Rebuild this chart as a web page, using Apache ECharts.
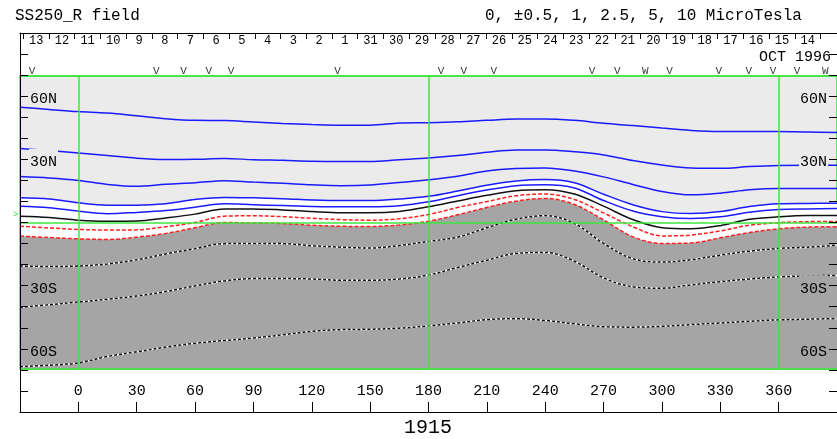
<!DOCTYPE html>
<html>
<head>
<meta charset="utf-8">
<script src="https://cdn.jsdelivr.net/npm/echarts@6/dist/echarts.min.js"></script>
<style>
  html, body { margin: 0; padding: 0; background: #fff; }
  #chart { width: 837px; height: 439px; }
</style>
</head>
<body>
<div id="chart"></div>
<script>
// Carrington longitude where each contour was read (deg)
const lons = [-30, -15, 0, 15, 30, 45, 60, 75, 90, 105, 120, 135, 150, 165, 180,
  195, 210, 225, 240, 255, 270, 285, 300, 315, 330, 345, 360, 375, 390]

// latitude of each field contour (MicroTesla), positive levels
const lat10 = [55.1, 54.0, 53.0, 52.3, 51.0, 49.6, 48.8, 48.7, 48.0, 47.3, 46.8, 46.5, 46.5, 47.5, 47.7,
  48.1, 48.8, 49.4, 49.5, 48.8, 47.4, 46.3, 45.1, 44.0, 43.5, 43.5, 43.5, 43.2, 43.0]
const lat5 = [35.4, 34.4, 33.2, 32.0, 30.7, 30.1, 30.2, 30.6, 30.0, 29.7, 29.3, 29.2, 29.2, 30.0, 30.8,
  32.0, 33.6, 34.7, 34.7, 33.8, 32.3, 29.6, 27.5, 26.1, 25.9, 26.7, 27.2, 27.3, 27.3]
const lat2p5 = [22.0, 21.3, 20.1, 18.2, 17.3, 18.3, 19.0, 20.0, 19.3, 18.7, 18.0, 17.6, 17.9, 19.1, 20.4,
  22.1, 24.6, 25.8, 26.1, 24.6, 21.8, 18.2, 14.8, 13.2, 14.0, 15.6, 16.2, 16.2, 16.2]
const lat1 = [11.8, 11.2, 9.4, 8.3, 8.3, 9.0, 11.0, 12.0, 11.8, 11.4, 10.8, 10.5, 10.5, 11.2, 12.5,
  15.0, 17.8, 19.8, 20.5, 19.0, 13.5, 8.5, 5.2, 4.3, 5.2, 7.6, 8.9, 9.1, 9.2]
const lat0p5 = [7.8, 7.1, 5.4, 4.2, 4.8, 5.7, 7.3, 8.9, 8.5, 8.1, 7.7, 7.5, 7.5, 8.0, 9.9,
  12.8, 15.5, 17.6, 18.0, 16.5, 10.5, 5.5, 2.8, 1.9, 2.7, 4.9, 6.2, 6.5, 6.7]
// neutral line
const lat0 = [3.0, 2.4, 1.1, 0.6, 0.7, 2.2, 4.0, 6.5, 6.4, 6.0, 5.2, 4.6, 4.6, 5.3, 7.5,
  10.3, 13.0, 15.2, 15.7, 13.6, 7.8, 1.4, -2.5, -3.0, -1.5, 1.5, 2.7, 3.3, 3.3]
// negative levels
const latM0p5 = [-1.8, -2.6, -3.3, -3.6, -3.5, -2.0, 0.0, 3.0, 3.2, 2.8, 2.0, 1.4, 1.1, 1.8, 3.8,
  7.2, 10.0, 12.8, 13.6, 11.0, 4.6, -2.0, -6.4, -6.0, -4.0, -1.3, -0.1, 0.4, 0.5]
const latM1 = [-6.5, -7.2, -7.8, -8.1, -7.0, -5.2, -2.5, 0.0, -0.2, -0.5, -1.3, -1.8, -1.9, -1.2, 0.6,
  3.7, 7.2, 10.2, 11.5, 8.6, 1.2, -6.8, -10.0, -9.8, -7.3, -4.8, -3.0, -2.2, -2.0]
const latM2p5 = [-20.8, -21.0, -20.8, -19.8, -17.8, -15.0, -12.5, -10.1, -10.0, -10.1, -11.1, -11.8, -12.2, -11.0, -9.0,
  -7.0, -2.5, 1.6, 3.3, -0.5, -10.0, -17.3, -18.9, -17.8, -15.6, -13.7, -12.4, -11.8, -10.8]
const latM5 = [-40.6, -39.3, -38.0, -36.7, -35.1, -33.0, -30.3, -27.9, -26.8, -26.8, -27.0, -27.6, -27.6, -27.0, -25.1,
  -21.5, -18.0, -14.8, -14.3, -18.5, -26.5, -30.7, -31.4, -29.8, -28.3, -27.0, -26.0, -25.5, -25.3]
const latM10 = [-68.9, -68.2, -67.1, -64.0, -61.8, -59.5, -57.7, -56.4, -55.2, -53.7, -52.0, -51.2, -51.0, -50.5, -49.4,
  -48.0, -46.4, -46.0, -46.8, -48.4, -49.8, -50.0, -49.6, -48.8, -48.0, -47.2, -46.5, -46.2, -45.9]

// axis ticks
const lonTicks = [0, 30, 60, 90, 120, 150, 180, 210, 240, 270, 300, 330, 360]
const latLabels = [60, 30, -30, -60]
const dayLabels = ['13', '12', '11', '10', '9', '8', '7', '6', '5', '4', '3', '2', '1', '31', '30', '29',
  '28', '27', '26', '25', '24', '23', '22', '21', '20', '19', '18', '17', '16', '15', '14']
const dayStart = -28.3   // longitude of the first day boundary
const dayStep = 13.22    // degrees per day

// V / W marks above the map
const markLons = [-23.8, 40.1, 54.1, 67.0, 78.5, 133.2, 186.5, 198.2, 213.6, 264.1, 277.0, 291.5,
  303.9, 329.2, 344.6, 357.1, 369.5, 384.0]
const markChars = ['V', 'V', 'V', 'V', 'V', 'V', 'V', 'V', 'V', 'V', 'V', 'W',
  'V', 'V', 'V', 'V', 'V', 'W']

const FONT = 'Liberation Mono'
const GREEN = '#3ce63c'
const LIGHT = '#ebebeb'
const DARK = '#a5a5a5'
const BLUE = '#1a1aff'
const markRowLat = 72

const dayTicks = dayLabels.map((d, i) => +(dayStart + i * dayStep).toFixed(2))
dayTicks.push(+(dayStart + dayLabels.length * dayStep).toFixed(2))
const dayMids = dayLabels.map((d, i) => +(dayStart + (i + 0.5) * dayStep).toFixed(2))

function pts(lat) {
  return lons.map((x, i) => [x, lat[i]])
}

function contour(lat, line, area) {
  const s = {
    type: 'line',
    xAxisIndex: 2,
    yAxisIndex: 2,
    data: pts(lat),
    smooth: 0.35,
    symbol: 'none',
    silent: true,
    lineStyle: line,
  }
  if (area) s.areaStyle = { color: area, opacity: 1, origin: 'start' }
  return s
}

const blue = { color: BLUE, width: 1.5 }
const red = { color: '#ff2020', width: 1.5, type: [4, 2] }
const under = { color: '#ffffff', width: 1.5 }
const dots = { color: '#111', width: 1.5, type: [3, 2] }

const series = [
  contour(lat10, blue),
  contour(lat5, blue),
  contour(lat2p5, blue),
  contour(lat1, blue, '#ffffff'),
  contour(lat0p5, blue),
  contour(lat0, { color: '#111', width: 1.5 }),
  contour(latM0p5, red),
  contour(latM1, red, DARK),
  contour(latM2p5, under),
  contour(latM2p5, dots),
  contour(latM5, under),
  contour(latM5, dots),
  contour(latM10, under),
  Object.assign(contour(latM10, dots), {
    markLine: {
      silent: true,
      symbol: 'none',
      label: { show: false },
      lineStyle: { color: GREEN, width: 1.5, type: 'solid' },
      data: [{ xAxis: 0 }, { xAxis: 180 }, { xAxis: 360 }, { yAxis: 0 }, { yAxis: 70 }, { yAxis: -70 }],
    },
  }),
  {
    type: 'scatter',
    xAxisIndex: 0,
    yAxisIndex: 0,
    symbolSize: 0,
    silent: true,
    data: markLons.map((x, i) => ({ value: [x, markRowLat], name: markChars[i] })),
    label: {
      show: true,
      position: 'inside',
      formatter: p => p.name,
      color: '#000',
      fontFamily: FONT,
      fontSize: 11,
    },
  },
]

const latAxis = pos => ({
  type: 'value',
  gridIndex: 0,
  position: pos,
  min: -90,
  max: 90,
  interval: 10,
  z: 10,
  axisLine: { show: true, onZero: false, lineStyle: { color: '#000', width: 1 } },
  axisTick: { show: true, inside: true, length: 8, lineStyle: { color: '#000' } },
  splitLine: { show: false },
  axisLabel: {
    show: true,
    inside: true,
    margin: 9,
    customValues: latLabels,
    formatter: v => (v > 0 ? '{n|' + v + 'N}' : '{s|' + (-v) + 'S}'),
    rich: {
      n: { fontFamily: FONT, fontSize: 15, color: '#000', backgroundColor: LIGHT, padding: [6, 1, 0, 1] },
      s: { fontFamily: FONT, fontSize: 15, color: '#000', backgroundColor: DARK, padding: [6, 1, 0, 1] },
    },
  },
})

const chart = echarts.init(document.getElementById('chart'))
chart.setOption({
  animation: false,
  backgroundColor: '#fff',
  grid: [
    { left: 20, right: 0, top: 33, bottom: 27 },
    { left: 20, right: 0, top: 76, bottom: 70, show: true, backgroundColor: LIGHT, borderColor: GREEN, borderWidth: 1.5 },
  ],
  xAxis: [
    {
      type: 'value',
      gridIndex: 0,
      position: 'bottom',
      min: -30,
      max: 390,
      z: 10,
      axisLine: { onZero: false, lineStyle: { color: '#000', width: 1 } },
      axisTick: { inside: true, length: 10, customValues: lonTicks, lineStyle: { color: '#000' } },
      axisLabel: { inside: true, margin: 13, customValues: lonTicks, fontFamily: FONT, fontSize: 15, color: '#000' },
      splitLine: { show: false },
    },
    {
      type: 'value',
      gridIndex: 0,
      position: 'top',
      min: -30,
      max: 390,
      z: 10,
      axisLine: { onZero: false, lineStyle: { color: '#000', width: 1 } },
      axisTick: { inside: true, length: 6, customValues: dayTicks, lineStyle: { color: '#000' } },
      axisLabel: {
        inside: true,
        margin: 2,
        customValues: dayMids,
        formatter: v => dayLabels[Math.round((v - dayStart) / dayStep - 0.5)],
        fontFamily: FONT,
        fontSize: 12,
        color: '#000',
      },
      splitLine: { show: false },
    },
    { type: 'value', gridIndex: 1, min: -30, max: 390, show: false },
  ],
  yAxis: [
    latAxis('left'),
    latAxis('right'),
    { type: 'value', gridIndex: 1, min: -70, max: 70, show: false },
  ],
  graphic: [
    { type: 'text', left: 15, top: 8, style: { text: 'SS250_R field', font: '16px "Liberation Mono"', fill: '#000' } },
    { type: 'text', left: 485, top: 8, style: { text: '0, \u00b10.5, 1, 2.5, 5, 10 MicroTesla', font: '16px "Liberation Mono"', fill: '#000' } },
    { type: 'text', right: 6, top: 50, style: { text: 'OCT 1996', font: '15px "Liberation Mono"', fill: '#000' } },
    { type: 'text', left: 404, top: 418, style: { text: '1915', font: '20px "Liberation Mono"', fill: '#000' } },
    { type: 'text', left: 13, top: 210, style: { text: '>', font: '9px "Liberation Mono"', fill: GREEN } },
  ],
  series: series,
})
</script>
</body>
</html>
